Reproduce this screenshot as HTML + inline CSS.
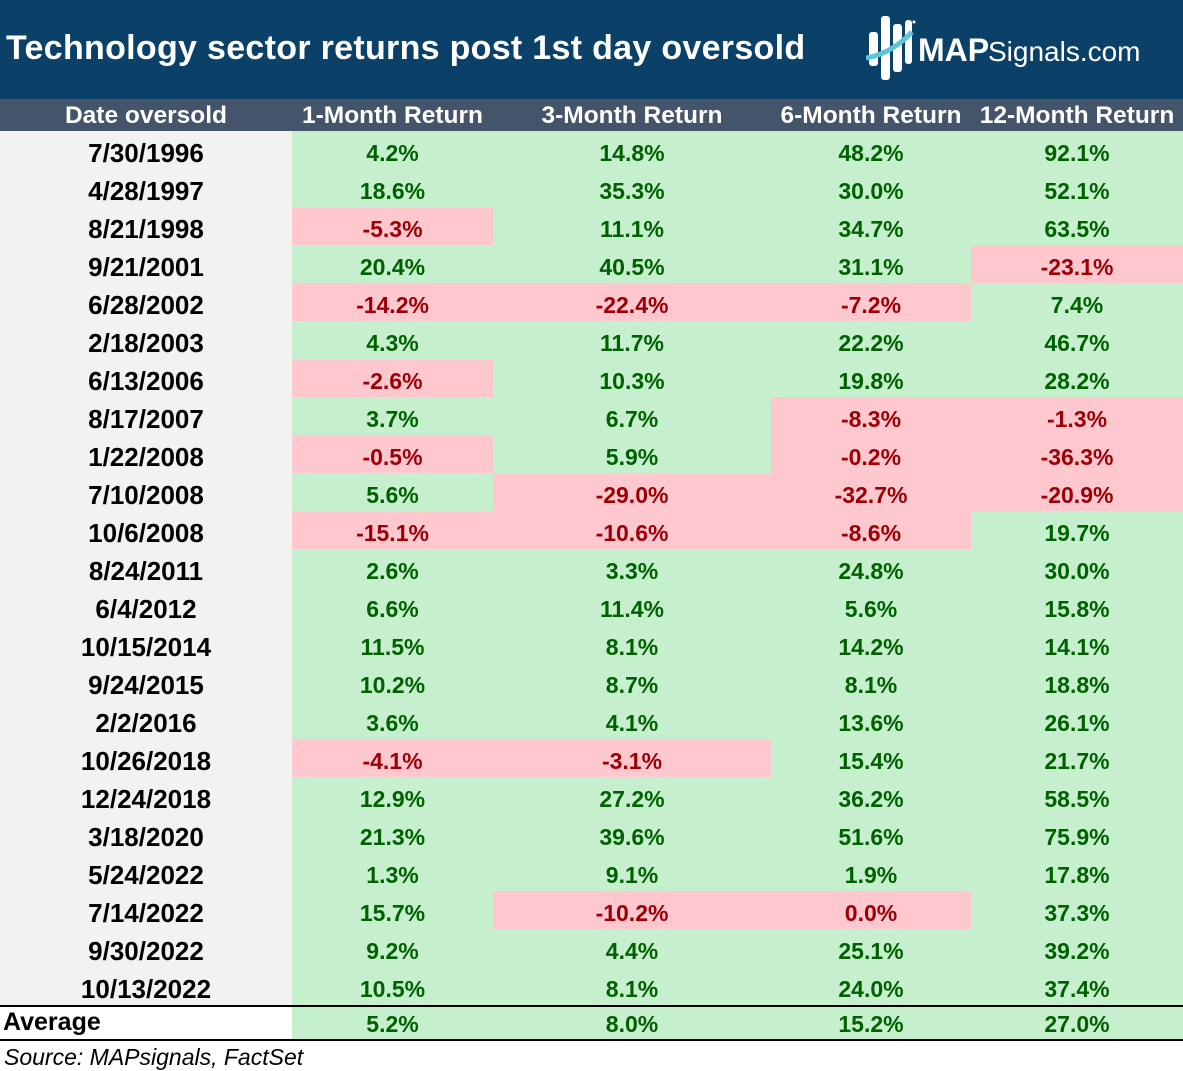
<!DOCTYPE html>
<html><head><meta charset="utf-8">
<style>
body{margin:0;width:1183px;height:1070px;background:#fff;position:relative;overflow:hidden;font-family:"Liberation Sans",Arial,sans-serif}
#title{position:absolute;left:0;top:0;width:1183px;height:99px;background:#0b4169}
#title h1{position:absolute;left:6px;top:29px;margin:0;color:#fff;font-size:34px;font-weight:bold;letter-spacing:0.3px}
#logo{position:absolute;left:866px;top:14px;width:300px;height:70px}
#hdr{position:absolute;left:0;top:99px;width:1183px;height:32px;background:#44546a}
.h{position:absolute;top:0;height:32px;line-height:33px;color:#fff;font-weight:bold;font-size:24.5px;text-align:center}
.c{position:absolute;height:38px;line-height:44px;text-align:center;font-weight:bold;font-size:23px}
.pos{background:#c6efce;color:#006100}.neg{background:#ffc7ce;color:#9c0006}
.d{background:#f2f2f2;color:#000;font-size:26px}
#src{position:absolute;left:4px;top:1044px;font-style:italic;font-size:23px;color:#000}
</style></head><body>
<div id="title">
<h1>Technology sector returns post 1st day oversold</h1>
<svg id="logo" viewBox="0 0 300 70">
<rect x="3" y="18" width="9" height="34" rx="3" fill="#fff"/>
<rect x="15" y="2" width="9" height="64" rx="3" fill="#fff"/>
<rect x="27" y="10" width="9" height="48" rx="3" fill="#fff"/>
<rect x="39" y="6" width="7" height="44" rx="3" fill="#fff"/>
<path d="M0 44 Q25 40 46 18" stroke="#5bc4d6" stroke-width="5" fill="none"/>
<circle cx="48" cy="8" r="1.5" fill="#fff"/>
<text x="52" y="47" fill="#fff" font-size="32" font-weight="bold" font-family="Liberation Sans,sans-serif">MAP</text>
<text x="122" y="47" fill="#fff" font-size="28" font-family="Liberation Sans,sans-serif">Signals.com</text>
</svg>
</div>
<div id="hdr"></div>
<div id="tbl"></div>
<div id="src">Source: MAPsignals, FactSet</div>
<script>
const dates=["7/30/1996","4/28/1997","8/21/1998","9/21/2001","6/28/2002","2/18/2003","6/13/2006","8/17/2007","1/22/2008","7/10/2008","10/6/2008","8/24/2011","6/4/2012","10/15/2014","9/24/2015","2/2/2016","10/26/2018","12/24/2018","3/18/2020","5/24/2022","7/14/2022","9/30/2022","10/13/2022"];
const ret1m=[4.2,18.6,-5.3,20.4,-14.2,4.3,-2.6,3.7,-0.5,5.6,-15.1,2.6,6.6,11.5,10.2,3.6,-4.1,12.9,21.3,1.3,15.7,9.2,10.5];
const ret3m=[14.8,35.3,11.1,40.5,-22.4,11.7,10.3,6.7,5.9,-29.0,-10.6,3.3,11.4,8.1,8.7,4.1,-3.1,27.2,39.6,9.1,-10.2,4.4,8.1];
const ret6m=[48.2,30.0,34.7,31.1,-7.2,22.2,19.8,-8.3,-0.2,-32.7,-8.6,24.8,5.6,14.2,8.1,13.6,15.4,36.2,51.6,1.9,-0.0001,25.1,24.0];
const ret12m=[92.1,52.1,63.5,-23.1,7.4,46.7,28.2,-1.3,-36.3,-20.9,19.7,30.0,15.8,14.1,18.8,26.1,21.7,58.5,75.9,17.8,37.3,39.2,37.4];
const averages=[5.2,8.0,15.2,27.0];
const headers=["Date oversold","1-Month Return","3-Month Return","6-Month Return","12-Month Return"];
const colL=[0,292,493,771,971,1183];
const top0=131,rh=38;
const hdr=document.getElementById('hdr');
headers.forEach((t,i)=>{const e=document.createElement('div');e.className='h';


e.style.left=colL[i]+'px';e.style.width=(colL[i+1]-colL[i])+'px';e.textContent=t;hdr.appendChild(e);});
const tbl=document.getElementById('tbl');
const series=[ret1m,ret3m,ret6m,ret12m];
function fmt(v){if(Math.abs(v)<0.001)return "0.0%";return v.toFixed(1)+"%";}
function cell(x,w,y,txt,cls,nm){const e=document.createElement('div');e.className='c '+cls;


e.style.left=x+'px';e.style.width=w+'px';e.style.top=y+'px';e.textContent=txt;tbl.appendChild(e);}
dates.forEach((d,r)=>{const y=top0+r*rh;
cell(0,292,y,d,'d','date-cell');
series.forEach((s,c)=>{const v=s[r];cell(colL[c+1],colL[c+2]-colL[c+1],y,fmt(v),v<0?'neg':'pos','return-cell');});});
const ya=top0+dates.length*rh;
const line1=document.createElement('div');

line1.style.cssText='position:absolute;left:0;width:1183px;height:2px;background:#000;top:'+(ya)+'px';tbl.appendChild(line1);
const av=document.createElement('div');av.className='c';

av.style.cssText='left:3px;top:'+(ya+1)+'px;height:33px;line-height:33px;text-align:left;font-size:25px';av.textContent='Average';tbl.appendChild(av);
averages.forEach((v,c)=>{const e=document.createElement('div');e.className='c '+(v<0?'neg':'pos');


e.style.left=colL[c+1]+'px';e.style.width=(colL[c+2]-colL[c+1])+'px';e.style.top=(ya+2)+'px';e.style.height='32px';e.style.lineHeight='35px';e.textContent=fmt(v);tbl.appendChild(e);});
const line2=document.createElement('div');

line2.style.cssText='position:absolute;left:0;width:1183px;height:2px;background:#000;top:'+(ya+34)+'px';tbl.appendChild(line2);
</script>
</body></html>
